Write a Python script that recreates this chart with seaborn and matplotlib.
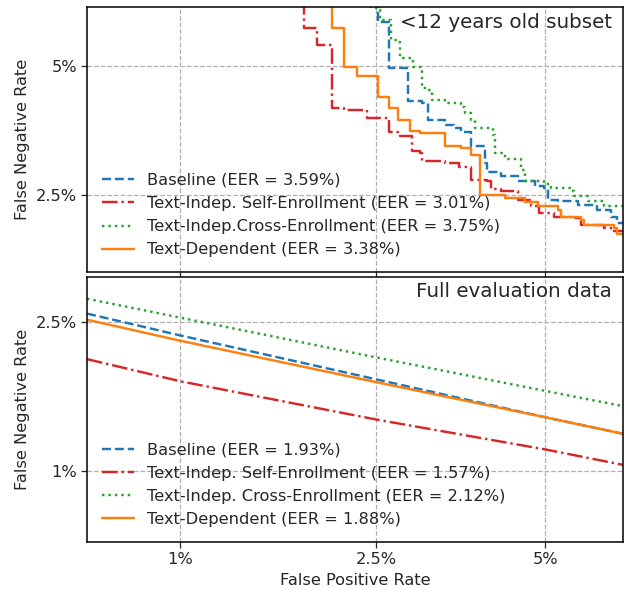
import statistics
import numpy as np
import matplotlib
matplotlib.use("Agg")
import matplotlib.pyplot as plt
import seaborn as sns

# DET curves, values in percent (FPR, FNR)
# <12 years old subset
sub_base_fpr = [2.52, 2.52, 2.64, 2.64, 2.85, 2.87, 3.04, 3.12, 3.12, 3.35, 3.47, 3.58, 3.73, 3.73,
                3.73, 3.94, 3.94, 3.97, 4.21, 4.50, 4.80, 4.98, 5.05, 5.25, 5.66, 6.09, 6.40, 6.55, 6.70]
sub_base_fnr = [7.00, 6.24, 6.21, 4.95, 4.91, 4.17, 4.14, 4.06, 3.79, 3.69, 3.62, 3.55, 3.52, 3.34,
                3.28, 3.22, 2.99, 2.85, 2.78, 2.70, 2.62, 2.60, 2.43, 2.41, 2.36, 2.29, 2.20, 2.12, 2.10]

sub_self_fpr = [1.81, 1.81, 1.92, 1.92, 2.05, 2.05, 2.17, 2.40, 2.40, 2.64, 2.64, 2.75, 2.77, 2.89,
                2.91, 3.02, 3.04, 3.35, 3.54, 3.73, 3.73, 3.97, 4.04, 4.21, 4.50, 4.74, 4.89, 5.18,
                5.51, 5.73, 6.25, 6.48, 6.70]
sub_self_fnr = [7.00, 6.04, 6.04, 5.57, 5.57, 4.04, 3.99, 3.92, 3.82, 3.82, 3.55, 3.52, 3.46, 3.46,
                3.19, 3.16, 3.02, 2.99, 2.93, 2.88, 2.72, 2.70, 2.58, 2.55, 2.43, 2.34, 2.25, 2.20,
                2.18, 2.10, 2.06, 2.02, 2.00]

sub_cross_fpr = [2.44, 2.44, 2.52, 2.54, 2.66, 2.66, 2.75, 2.77, 2.89, 2.93, 3.00, 3.04, 3.12, 3.17,
                 3.35, 3.58, 3.63, 3.73, 3.79, 4.07, 4.10, 4.27, 4.55, 4.62, 4.98, 5.12, 5.51, 5.59,
                 5.87, 6.25, 6.70]
sub_cross_fnr = [7.00, 6.65, 6.60, 6.29, 6.24, 5.71, 5.66, 5.21, 5.17, 4.99, 4.99, 4.47, 4.43, 4.21,
                 4.14, 4.06, 3.92, 3.79, 3.62, 3.49, 3.16, 3.05, 2.88, 2.70, 2.65, 2.60, 2.55, 2.48,
                 2.41, 2.34, 2.29]

sub_dep_fpr = [2.05, 2.05, 2.17, 2.17, 2.29, 2.29, 2.52, 2.52, 2.64, 2.64, 2.75, 2.75, 2.89, 2.89,
               3.02, 3.35, 3.35, 3.58, 3.73, 3.73, 3.86, 3.86, 3.99, 4.27, 4.62, 4.86, 5.25, 5.31,
               5.73, 5.80, 6.48, 6.55, 6.70]
sub_dep_fnr = [7.00, 6.04, 6.04, 4.99, 4.99, 4.77, 4.73, 4.28, 4.28, 4.03, 4.03, 3.79, 3.79, 3.57,
               3.52, 3.47, 3.29, 3.25, 3.22, 3.13, 3.13, 2.50, 2.50, 2.45, 2.39, 2.34, 2.29, 2.20,
               2.16, 2.10, 2.06, 1.98, 1.96]

# Full evaluation data
full_fpr = [0.62, 1.0, 2.5, 5.0, 6.7]
full_base_fnr = [2.62, 2.31, 1.78, 1.41, 1.27]
full_self_fnr = [2.01, 1.76, 1.39, 1.15, 1.04]
full_cross_fnr = [2.85, 2.56, 2.03, 1.66, 1.51]
full_dep_fnr = [2.53, 2.24, 1.75, 1.41, 1.27]

sub_labels = ['Baseline (EER = 3.59%)',
              'Text-Indep. Self-Enrollment (EER = 3.01%)',
              'Text-Indep.Cross-Enrollment (EER = 3.75%)',
              'Text-Dependent (EER = 3.38%)']
full_labels = ['Baseline (EER = 1.93%)',
               'Text-Indep. Self-Enrollment (EER = 1.57%)',
               'Text-Indep. Cross-Enrollment (EER = 2.12%)',
               'Text-Dependent (EER = 1.88%)']

colors = ['#1f77b4', '#d62728', '#2ca02c', '#ff7f0e']
styles = ['--', '-.', ':', '-']

nd = statistics.NormalDist()


def probit(pct):
    return np.array([nd.inv_cdf(p / 100.0) for p in pct])


sns.set_style('white')
plt.rcParams['font.family'] = ['DejaVu Sans']

FS = 11.7  # the original was rendered a bit larger than 10pt
LW = 1.75

fig, (ax1, ax2) = plt.subplots(2, 1, figsize=(6.24, 5.9), dpi=100, sharex=True)
fig.subplots_adjust(left=0.140, right=0.998, top=0.9876, bottom=0.0819, hspace=0.019)

sub_curves = [(sub_base_fpr, sub_base_fnr), (sub_self_fpr, sub_self_fnr),
              (sub_cross_fpr, sub_cross_fnr), (sub_dep_fpr, sub_dep_fnr)]
for (fpr, fnr), lab, c, ls in zip(sub_curves, sub_labels, colors, styles):
    sns.lineplot(x=probit(fpr), y=probit(fnr), ax=ax1, color=c, linestyle=ls, linewidth=LW,
                 drawstyle='steps-post', sort=False, estimator=None, label=lab)

full_curves = [full_base_fnr, full_self_fnr, full_cross_fnr, full_dep_fnr]
for fnr, lab, c, ls in zip(full_curves, full_labels, colors, styles):
    sns.lineplot(x=probit(full_fpr), y=probit(fnr), ax=ax2, color=c, linestyle=ls, linewidth=LW,
                 sort=False, estimator=None, label=lab)

xticks = [1, 2.5, 5]
ax2.set_xticks(probit(xticks))
ax2.set_xticklabels(['1%', '2.5%', '5%'])
ax2.set_xlim(-2.5, -1.5)

ax1.set_ylim(-2.15, -1.5)
ax1.set_yticks(probit([2.5, 5]))
ax1.set_yticklabels(['2.5%', '5%'])
ax2.set_ylim(-2.5, -1.85)
ax2.set_yticks(probit([1, 2.5]))
ax2.set_yticklabels(['1%', '2.5%'])

for ax in (ax1, ax2):
    ax.grid(True, linestyle='--', color='#b0b0b0', linewidth=0.9)
    ax.tick_params(direction='out', length=4, width=0.9, left=True, bottom=True, labelsize=FS)
    for sp in ax.spines.values():
        sp.set_color('black')
        sp.set_linewidth(1.1)
    ax.set_ylabel('False Negative Rate', fontsize=FS)
    ax.legend(loc='lower left', frameon=False, fontsize=FS)

ax2.set_xlabel('False Positive Rate', fontsize=FS)
ax1.set_xlabel('')

ax1.text(0.98, 0.98, '<12 years old subset', transform=ax1.transAxes, ha='right', va='top', fontsize=14.3)
ax2.text(0.98, 0.98, 'Full evaluation data', transform=ax2.transAxes, ha='right', va='top', fontsize=14.3)

plt.savefig('out.png', dpi=100)
plt.close()
